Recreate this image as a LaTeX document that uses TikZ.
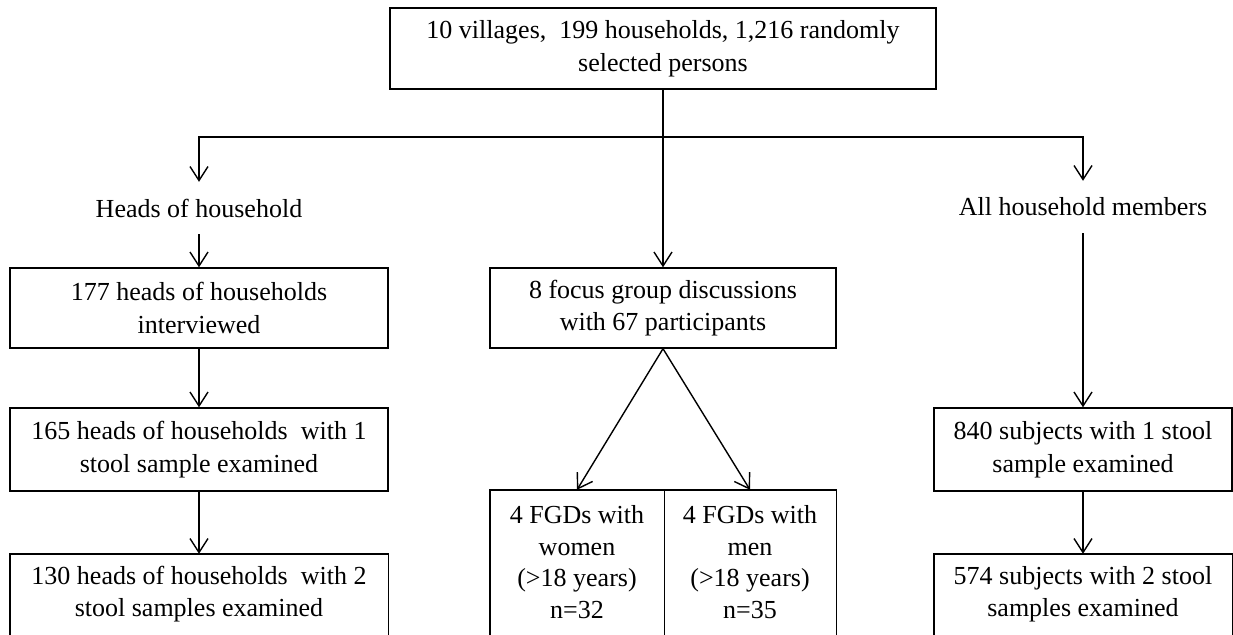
\documentclass[tikz,border=0pt]{standalone}
\usepackage{fontspec}
\setmainfont{Liberation Serif}
\usetikzlibrary{arrows.meta}
\begin{document}
\begin{tikzpicture}[x=1pt,y=-1pt,
  lw/.style={line width=1.4pt},
  arr/.style={lw,-{Straight Barb[length=14pt,width=18pt,line width=1.4pt]}},
  txt/.style={align=center,inner sep=0pt,font=\fontsize{26}{32.5}\selectfont},
  box/.style={txt,draw,lw},
  boxline/.style={lw}]
\path[use as bounding box,clip] (0,0) rectangle (1233,634);
\fill[white] (0,0) rectangle (1233,634);

% top
\node[box,minimum width=546pt,minimum height=81pt] (top) at (663,48.5)
  {10 villages,\ \ 199 households, 1,216 randomly\\selected persons};
\coordinate (j) at (663,137);

% labels
\node[txt,minimum height=52pt] (heads) at (199,208) {Heads of household};
\node[txt,minimum height=52pt] (members) at (1083,207) {All household members};

% left column
\node[box,minimum width=378pt,minimum height=80pt] (b177) at (199,308)
  {177 heads of households\\interviewed};
\node[box,minimum width=378pt,minimum height=83pt] (b165) at (199,449.5)
  {165 heads of households\ \ with 1\\stool sample examined};
\node[txt,minimum width=378pt,minimum height=80pt] (b130) at (199,594)
  {130 heads of households\ \ with 2\\stool samples examined};

% middle column
\node[box,minimum width=346pt,minimum height=80pt] (mid) at (663,308)
  {8 focus group discussions\\with 67 participants};
\node[txt,minimum width=174pt,minimum height=144pt,font=\fontsize{26}{31.7}\selectfont] (women) at (577,562)
  {4 FGDs with\\women\\(>18 years)\\n=32};
\node[txt,minimum width=172pt,minimum height=144pt,font=\fontsize{26}{31.7}\selectfont] (men) at (750,562)
  {4 FGDs with\\men\\(>18 years)\\n=35};

% right column
\node[box,minimum width=298pt,minimum height=83pt] (b840) at (1083,449.5)
  {840 subjects with 1 stool\\sample examined};
\node[txt,minimum width=298pt,minimum height=80pt] (b574) at (1083,594)
  {574 subjects with 2 stool\\samples examined};

% open bottom boxes (cut by the picture edge)
\draw[boxline] ([yshift=-60pt]b130.south west) |- (b130.north east) -- ++(0,120);
\draw[boxline] ([yshift=-60pt]b574.south west) |- (b574.north east) -- ++(0,120);
\draw[boxline] ([yshift=-60pt]women.south west) |- (men.north east) -- ++(0,200);
\draw[boxline] (women.north east) -- ++(0,200);

% connectors
\draw[lw] (top.south) -- (j);
\draw[arr] (j) -| (heads.north);
\draw[arr] (j) -| (members.north);
\draw[arr] (j) -- (mid.north);
\draw[arr] (heads.south) -- (b177.north);
\draw[arr] (b177.south) -- (b165.north);
\draw[arr] (b165.south) -- (b130.north);
\draw[arr] (members.south) -- (b840.north);
\draw[arr] (b840.south) -- (b574.north);
\draw[arr] (mid.south) -- (women.north);
\draw[arr] (mid.south) -- (men.north);
\end{tikzpicture}
\end{document}
